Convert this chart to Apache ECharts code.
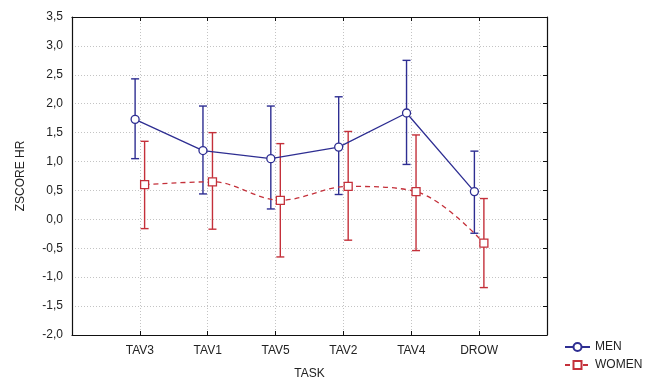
<!DOCTYPE html>
<html>
<head>
<meta charset="utf-8">
<script src="https://cdn.jsdelivr.net/npm/echarts@6/dist/echarts.min.js"></script>
<style>
  html, body { margin: 0; padding: 0; background: #fff; }
  #main { width: 656px; height: 385px; }
</style>
</head>
<body>
<div id="main"></div>
<script>
// tasks on the x axis (positions 1..6)
var tasks = ['TAV3', 'TAV1', 'TAV5', 'TAV2', 'TAV4', 'DROW'];
// y axis ticks
var yTicks = [-2.0, -1.5, -1.0, -0.5, 0.0, 0.5, 1.0, 1.5, 2.0, 2.5, 3.0, 3.5];

// men: mean, upper and lower end of whisker
var menMean = [1.73, 1.19, 1.05, 1.25, 1.84, 0.48];
var menHigh = [2.43, 1.96, 1.96, 2.12, 2.75, 1.18];
var menLow  = [1.05, 0.44, 0.18, 0.43, 0.95, -0.24];

// women
var womenMean = [0.60, 0.65, 0.33, 0.57, 0.48, -0.41];
var womenHigh = [1.35, 1.50, 1.31, 1.52, 1.46, 0.36];
var womenLow  = [-0.16, -0.17, -0.65, -0.36, -0.54, -1.18];

var blue = '#2e2e92';
var red = '#c4303a';
var shift = 0.07;   // men drawn a bit left, women a bit right

function points(mean, dx) {
  return mean.map(function (v, i) { return [i + 1 + dx, v]; });
}
function bars(low, high, dx) {
  return low.map(function (v, i) { return [i + 1 + dx, v, high[i]]; });
}

function whisker(color) {
  return function (params, api) {
    var lo = api.coord([api.value(0), api.value(1)]);
    var hi = api.coord([api.value(0), api.value(2)]);
    var w = 4;
    var st = { stroke: color, lineWidth: 1.4 };
    return {
      type: 'group',
      children: [
        { type: 'line', shape: { x1: lo[0], y1: lo[1], x2: hi[0], y2: hi[1] }, style: st },
        { type: 'line', shape: { x1: lo[0] - w, y1: lo[1], x2: lo[0] + w, y2: lo[1] }, style: st },
        { type: 'line', shape: { x1: hi[0] - w, y1: hi[1], x2: hi[0] + w, y2: hi[1] }, style: st }
      ]
    };
  };
}

var txt = { fontFamily: 'Liberation Sans, Arial, sans-serif', fontSize: 12, color: '#222' };
var grid = { show: true, lineStyle: { color: '#c4c4c4', type: [1, 2], width: 1 } };
var frame = { show: true, onZero: false, lineStyle: { color: '#111', width: 1.2 } };
var inTick = { show: true, inside: true, length: 4, lineStyle: { color: '#111' } };

var myChart = echarts.init(document.getElementById('main'));
myChart.setOption({
  animation: false,
  textStyle: { fontFamily: 'Liberation Sans, Arial, sans-serif' },
  grid: { left: 72, right: 109, top: 17, bottom: 48 },
  legend: {
    orient: 'vertical',
    left: 559,
    top: 336,
    itemWidth: 25,
    itemHeight: 10,
    itemGap: 6,
    textStyle: txt,
    data: ['MEN', 'WOMEN']
  },
  xAxis: [{
    type: 'value',
    min: 0, max: 7, interval: 1,
    name: 'TASK',
    nameLocation: 'middle',
    nameGap: 33,
    nameTextStyle: txt,
    axisLine: frame,
    axisTick: inTick,
    axisLabel: Object.assign({
      margin: 10,
      formatter: function (v) { return tasks[v - 1] || ''; }
    }, txt),
    splitLine: grid
  }, {
    type: 'value',
    position: 'top',
    min: 0, max: 7, interval: 1,
    axisLine: frame,
    axisTick: inTick,
    axisLabel: { show: false },
    splitLine: { show: false }
  }],
  yAxis: [{
    type: 'value',
    min: yTicks[0], max: yTicks[yTicks.length - 1], interval: 0.5,
    name: 'ZSCORE HR',
    nameLocation: 'middle',
    nameRotate: 90,
    nameGap: 45,
    nameTextStyle: txt,
    axisLine: frame,
    axisTick: { show: false },
    axisLabel: Object.assign({
      margin: 9,
      formatter: function (v) { return v.toFixed(1).replace('.', ','); }
    }, txt),
    splitLine: grid
  }, {
    type: 'value',
    position: 'right',
    min: yTicks[0], max: yTicks[yTicks.length - 1], interval: 0.5,
    axisLine: frame,
    axisTick: inTick,
    axisLabel: { show: false },
    splitLine: { show: false }
  }],
  series: [
    {
      type: 'custom',
      name: 'men whiskers',
      renderItem: whisker(blue),
      encode: { x: 0, y: [1, 2] },
      data: bars(menLow, menHigh, -shift),
      z: 2
    },
    {
      type: 'custom',
      name: 'women whiskers',
      renderItem: whisker(red),
      encode: { x: 0, y: [1, 2] },
      data: bars(womenLow, womenHigh, shift),
      z: 2
    },
    {
      type: 'line',
      name: 'MEN',
      data: points(menMean, -shift),
      symbol: 'circle',
      symbolSize: 8,
      color: blue,
      itemStyle: { color: '#fff', borderColor: blue, borderWidth: 1.3 },
      lineStyle: { color: blue, width: 1.3 },
      z: 3
    },
    {
      type: 'line',
      name: 'WOMEN',
      data: points(womenMean, shift),
      smooth: 0.35,
      symbol: 'rect',
      symbolSize: 8,
      color: red,
      itemStyle: { color: '#fff', borderColor: red, borderWidth: 1.3 },
      lineStyle: { color: red, width: 1.3, type: [5, 4] },
      z: 3
    }
  ]
});
</script>
</body>
</html>
